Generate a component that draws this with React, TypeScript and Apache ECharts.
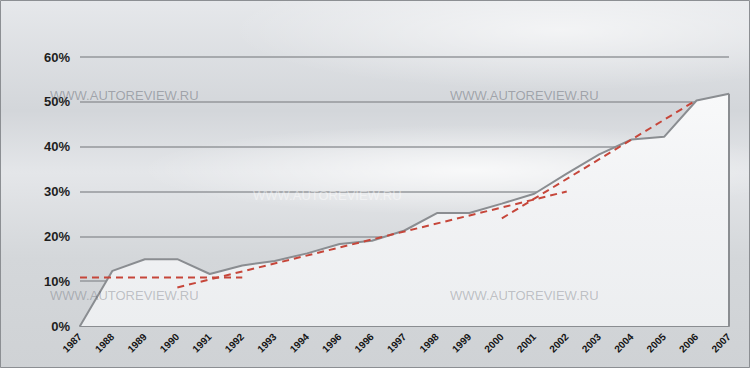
import React, { useEffect, useRef } from "react";
import * as echarts from "echarts";

const years = ["1987","1988","1989","1990","1991","1992","1993","1994","1996","1996","1997","1998","1999","2000","2001","2002","2003","2004","2005","2006","2007"];
const share = [0, 12.3, 14.9, 14.9, 11.6, 13.5, 14.5, 16.2, 18.3, 19.0, 21.3, 25.2, 25.2, 27.3, 29.5, 34.0, 38.3, 41.6, 42.2, 50.3, 51.8];
const trendA = [10.8, null, null, null, null, 10.8, null, null, null, null, null, null, null, null, null, null, null, null, null, null, null];
const trendB = [null, null, null, 8.6, null, null, null, null, null, null, null, null, null, null, null, 30.0, null, null, null, null, null];
const trendC = [null, null, null, null, null, null, null, null, null, null, null, null, null, 24.0, null, null, null, null, null, 50.4, null];
const yTicks = { min: 0, max: 60, interval: 10 };
const watermark = "WWW.AUTOREVIEW.RU";

export default function App() {
  const ref = useRef<HTMLDivElement>(null);
  useEffect(() => {
    document.body.style.margin = "0";
    const chart = echarts.init(ref.current!, null, { renderer: "svg" });
    const red = "#c6463a";
    const trend = (data: (number | null)[]) => ({
      type: "line",
      data,
      connectNulls: true,
      symbol: "none",
      z: 5,
      lineStyle: { color: red, width: 2, type: [7, 5] },
    });
    const wm = (x: number, y: number, fill: string) => ({
      type: "text",
      x,
      y,
      z: 100,
      style: { text: watermark, fill, font: "13px 'Liberation Sans', Arial, sans-serif" },
    });
    chart.setOption({
      animation: false,
      backgroundColor: {
        type: "linear", x: 0, y: 0, x2: 0, y2: 1,
        colorStops: [
          { offset: 0, color: "#e6e8eb" },
          { offset: 0.3, color: "#d3d6da" },
          { offset: 0.47, color: "#e4e6e9" },
          { offset: 0.7, color: "#d4d7da" },
          { offset: 1, color: "#cfd2d5" },
        ],
      },
      graphic: [
        {
          type: "ellipse", z: -10, silent: true,
          shape: { cx: 470, cy: 170, rx: 330, ry: 45 },
          style: {
            fill: {
              type: "radial", x: 0.5, y: 0.5, r: 0.5,
              colorStops: [
                { offset: 0, color: "rgba(255,255,255,0.75)" },
                { offset: 1, color: "rgba(255,255,255,0)" },
              ],
            },
          },
        },
        {
          type: "ellipse", z: -10, silent: true,
          shape: { cx: 560, cy: 30, rx: 330, ry: 60 },
          style: {
            fill: {
              type: "radial", x: 0.5, y: 0.5, r: 0.5,
              colorStops: [
                { offset: 0, color: "rgba(255,255,255,0.6)" },
                { offset: 1, color: "rgba(255,255,255,0)" },
              ],
            },
          },
        },
        {
          type: "rect", z: 200, silent: true,
          shape: { x: 0.5, y: 0.5, width: 749, height: 367 },
          style: { fill: "none", stroke: "#8c8f93", lineWidth: 1 },
        },
        wm(50, 89, "rgba(70,75,85,0.38)"),
        wm(450, 89, "rgba(70,75,85,0.38)"),
        wm(253, 189, "rgba(255,255,255,0.45)"),
        wm(50, 289, "rgba(70,75,85,0.3)"),
        wm(450, 289, "rgba(70,75,85,0.3)"),
      ],
      grid: { left: 80, right: 21, top: 57, bottom: 42 },
      xAxis: {
        type: "category",
        data: years,
        boundaryGap: false,
        axisLine: { lineStyle: { color: "#8a8d91", width: 2 } },
        axisTick: { show: false },
        axisLabel: {
          interval: 0,
          rotate: 45,
          margin: 9,
          color: "#151515",
          fontSize: 10,
          fontWeight: "bold",
          fontFamily: "'Liberation Sans', Arial, sans-serif",
        },
      },
      yAxis: {
        type: "value",
        min: yTicks.min,
        max: yTicks.max,
        interval: yTicks.interval,
        axisLine: { show: false },
        axisTick: { show: false },
        splitLine: { lineStyle: { color: "#94979b", width: 1.5 } },
        axisLabel: {
          formatter: "{value}%",
          margin: 10,
          color: "#1e1e1e",
          fontSize: 13,
          fontWeight: "bold",
          fontFamily: "'Liberation Sans', Arial, sans-serif",
        },
      },
      series: [
        {
          type: "line",
          data: share,
          symbol: "none",
          z: 3,
          lineStyle: { color: "#8a8d91", width: 2 },
          areaStyle: {
            opacity: 1,
            color: {
              type: "linear", x: 0, y: 0, x2: 0, y2: 1,
              colorStops: [
                { offset: 0, color: "#f8f9fa" },
                { offset: 0.5, color: "#f1f2f4" },
                { offset: 1, color: "#eceef0" },
              ],
            },
          },
          markLine: {
            silent: true,
            symbol: "none",
            label: { show: false },
            lineStyle: { color: "#8a8d91", width: 2, type: "solid" },
            data: [[{ coord: [share.length - 1, 0] }, { coord: [share.length - 1, share[share.length - 1]] }]],
          },
        },
        trend(trendA),
        trend(trendB),
        trend(trendC),
      ],
    });
    return () => chart.dispose();
  }, []);
  return <div ref={ref} style={{ width: 750, height: 368 }} />;
}
